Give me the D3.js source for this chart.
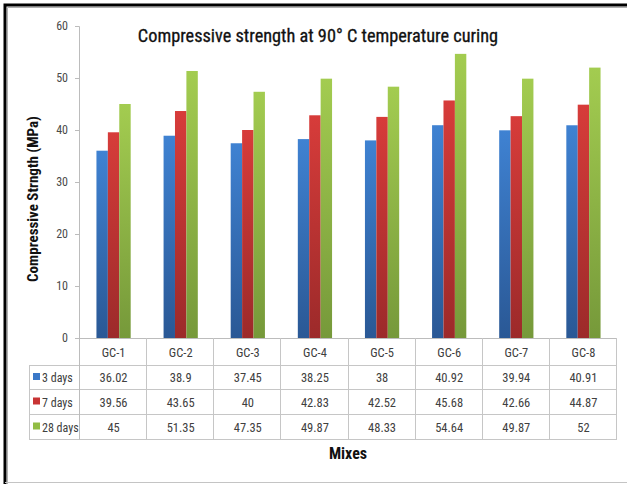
<!DOCTYPE html>
<html>
<head>
<meta charset="utf-8">
<script src="https://cdn.jsdelivr.net/npm/d3@7/dist/d3.min.js"></script>
<style>
  html, body { margin: 0; padding: 0; background: #fff; }
  svg { display: block; }
  .narrow { font-family: 'Liberation Sans Narrow', 'Roboto Condensed', 'DejaVu Sans Condensed', 'Open Sans', sans-serif; }
</style>
</head>
<body>
<svg id="chart" width="627" height="484"></svg>
<script>
// Compressive strength data by mix and curing age
const mixes = ["GC-1", "GC-2", "GC-3", "GC-4", "GC-5", "GC-6", "GC-7", "GC-8"];
const seriesNames = ["3 days", "7 days", "28 days"];
const days3  = [36.02, 38.9, 37.45, 38.25, 38, 40.92, 39.94, 40.91];
const days7  = [39.56, 43.65, 40, 42.83, 42.52, 45.68, 42.66, 44.87];
const days28 = [45, 51.35, 47.35, 49.87, 48.33, 54.64, 49.87, 52];
const yTicks = [0, 10, 20, 30, 40, 50, 60];

const seriesValues = [days3, days7, days28];
const colorTop    = ["#3f82d2", "#d73c3a", "#a3cc50"];
const colorBottom = ["#2a5895", "#9c2a2a", "#76993a"];
const legendColor = ["#3a78c8", "#c83434", "#92bd44"];

const svg = d3.select("#chart");
const W = 627, H = 484;
const plot = { left: 80, right: 617, top: 26, bottom: 338 };
const rowH = [27, 24, 25, 25];          // header + three data rows
const legendLeft = 29;

// Gradients for the bars
const defs = svg.append("defs");
seriesNames.forEach((s, i) => {
  const g = defs.append("linearGradient")
    .attr("id", "grad" + i).attr("x1", 0).attr("y1", 0).attr("x2", 0).attr("y2", 1);
  g.append("stop").attr("offset", "0%").attr("stop-color", colorTop[i]);
  g.append("stop").attr("offset", "100%").attr("stop-color", colorBottom[i]);
});

// Outer frame
svg.append("path")
  .attr("d", `M5,${H} V5 H${W}`)
  .attr("fill", "none").attr("stroke", "#000").attr("stroke-width", 3);
svg.append("path")
  .attr("d", `M7.5,${H} V7.5 H${W}`)
  .attr("fill", "none").attr("stroke", "#b0b0b0").attr("stroke-width", 1);
svg.append("line")
  .attr("x1", 5).attr("x2", W).attr("y1", 482.5).attr("y2", 482.5)
  .attr("stroke", "#c4c4c4").attr("stroke-width", 1);

// Scales
const x = d3.scaleBand().domain(mixes).range([plot.left, plot.right]).padding(0);
const inner = d3.scaleBand().domain(seriesNames)
  .range([x.bandwidth() * 0.245, x.bandwidth() * 0.755]).padding(0);
const y = d3.scaleLinear().domain([0, 60]).range([plot.bottom, plot.top]);

// Y axis
const yAxis = d3.axisLeft(y).tickValues(yTicks).tickSize(4).tickPadding(7);
const gy = svg.append("g").attr("transform", `translate(${plot.left - 1},0)`).call(yAxis);
gy.select(".domain").attr("stroke", "#bcbcbc");
gy.selectAll(".tick line").attr("stroke", "#bcbcbc");
gy.selectAll(".tick text")
  .attr("class", "narrow")
  .attr("font-size", 12).attr("fill", "#4a4a4a");

// Bars
const groups = svg.append("g").selectAll("g")
  .data(mixes).join("g")
  .attr("transform", d => `translate(${x(d)},0)`);
groups.selectAll("rect")
  .data((d, i) => seriesNames.map((s, k) => ({ s, k, v: seriesValues[k][i] })))
  .join("rect")
  .attr("x", d => inner(d.s))
  .attr("width", inner.bandwidth())
  .attr("y", d => y(d.v))
  .attr("height", d => y(0) - y(d.v))
  .attr("fill", d => `url(#grad${d.k})`);

// Data table
const tableTop = plot.bottom;
const rowTops = [tableTop];
rowH.forEach((h, i) => rowTops.push(rowTops[i] + h));
const gridColor = "#c6c6c6";
const tg = svg.append("g");

// horizontal lines
tg.append("line")
  .attr("x1", plot.left - 1).attr("x2", plot.right)
  .attr("y1", tableTop + 0.5).attr("y2", tableTop + 0.5)
  .attr("stroke", "#bcbcbc");
rowTops.slice(1).forEach(yy => {
  tg.append("line")
    .attr("x1", legendLeft).attr("x2", plot.right)
    .attr("y1", yy + 0.5).attr("y2", yy + 0.5)
    .attr("stroke", gridColor);
});
// vertical lines
const colEdges = mixes.map(m => x(m)).concat([plot.right]);
colEdges.forEach((cx, i) => {
  tg.append("line")
    .attr("x1", Math.round(cx) - 0.5).attr("x2", Math.round(cx) - 0.5)
    .attr("y1", tableTop)
    .attr("y2", rowTops[rowTops.length - 1] + 0.5)
    .attr("stroke", i === 0 ? "#bcbcbc" : gridColor);
});
tg.append("line")
  .attr("x1", legendLeft + 0.5).attr("x2", legendLeft + 0.5)
  .attr("y1", rowTops[1]).attr("y2", rowTops[rowTops.length - 1] + 0.5)
  .attr("stroke", gridColor);

// header labels
tg.selectAll("text.head").data(mixes).join("text")
  .attr("class", "narrow")
  .attr("x", d => x(d) + x.bandwidth() / 2)
  .attr("y", rowTops[0] + rowH[0] / 2 + 5)
  .attr("text-anchor", "middle")
  .attr("font-size", 12.5).attr("fill", "#404040")
  .text(d => d);

// rows
seriesNames.forEach((s, k) => {
  const top = rowTops[k + 1], h = rowH[k + 1];
  tg.append("rect")
    .attr("x", legendLeft + 4).attr("y", top + h / 2 - 4)
    .attr("width", 7).attr("height", 7)
    .attr("fill", legendColor[k]);
  tg.append("text").attr("class", "narrow")
    .attr("x", legendLeft + 13).attr("y", top + h / 2 + 5)
    .attr("font-size", 12).attr("fill", "#404040")
    .text(s);
  tg.selectAll(null).data(seriesValues[k]).join("text")
    .attr("class", "narrow")
    .attr("x", (d, i) => x(mixes[i]) + x.bandwidth() / 2)
    .attr("y", top + h / 2 + 5)
    .attr("text-anchor", "middle")
    .attr("font-size", 12.5).attr("fill", "#404040")
    .text(d => String(d));
});

// Titles
svg.append("text")
  .attr("class", "narrow")
  .attr("x", 318).attr("y", 42)
  .attr("text-anchor", "middle")
  .attr("font-weight", 400)
  .attr("font-size", 18.3).attr("fill", "#111")
  .attr("stroke", "#111").attr("stroke-width", 0.3)
  .text("Compressive strength at 90° C temperature curing");

svg.append("text")
  .attr("class", "narrow")
  .attr("transform", "translate(38,199) rotate(-90)")
  .attr("text-anchor", "middle")
  .attr("font-weight", 700)
  .attr("font-size", 15).attr("fill", "#111")
  .text("Compressive Strngth (MPa)");

svg.append("text")
  .attr("class", "narrow")
  .attr("x", 348).attr("y", 459)
  .attr("text-anchor", "middle")
  .attr("font-weight", 700)
  .attr("font-size", 16).attr("fill", "#111")
  .text("Mixes");
</script>
</body>
</html>
